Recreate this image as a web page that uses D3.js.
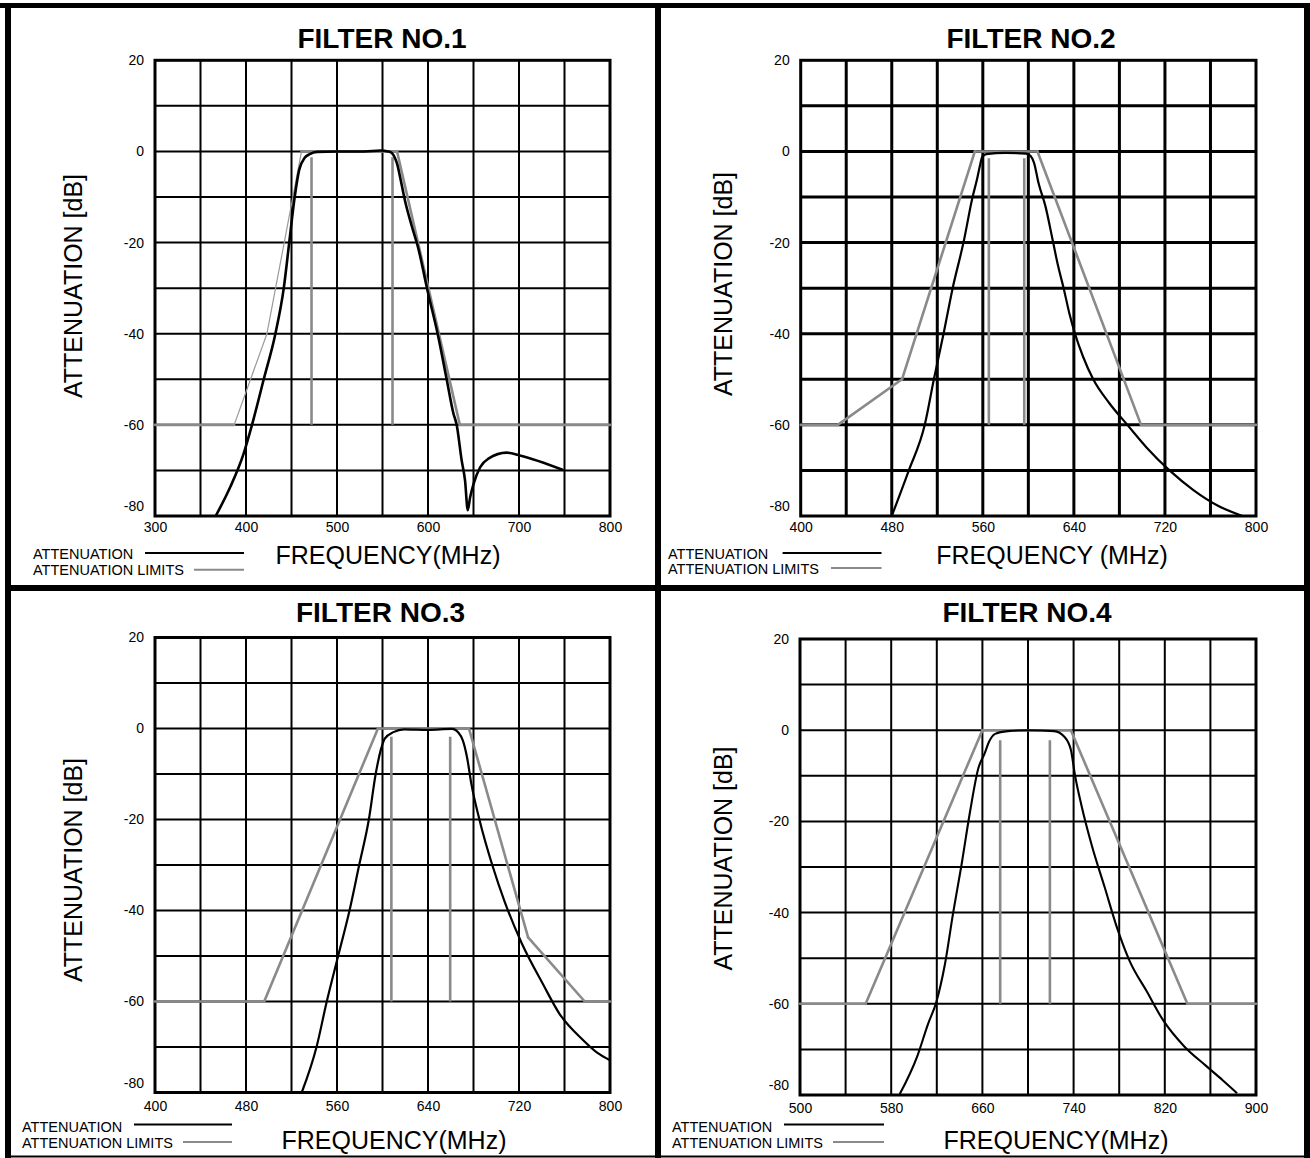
<!DOCTYPE html>
<html>
<head>
<meta charset="utf-8">
<script src="https://cdn.jsdelivr.net/npm/d3@7"></script>
<style>
  body { margin: 0; background: #fff; }
  svg { display: block; }
  text { font-family: "Liberation Sans", Arial, sans-serif; fill: #000; }
</style>
</head>
<body>
<div id="chart"></div>
<script>
// ---- values ----
var titles = ["FILTER NO.1", "FILTER NO.2", "FILTER NO.3", "FILTER NO.4"];
var xTitles = ["FREQUENCY(MHz)", "FREQUENCY (MHz)", "FREQUENCY(MHz)", "FREQUENCY(MHz)"];
var yTitle = "ATTENUATION [dB]";
var legendNames = ["ATTENUATION", "ATTENUATION LIMITS"];

var yTicks = [20, 0, -20, -40, -60, -80];
var xTicks1 = [300, 400, 500, 600, 700, 800];
var xTicks2 = [400, 480, 560, 640, 720, 800];
var xTicks3 = [400, 480, 560, 640, 720, 800];
var xTicks4 = [500, 580, 660, 740, 820, 900];

// measured attenuation [MHz, dB]
var resp1 = [[366.7,-80],[382.8,-73.6],[397.4,-66.3],[406.6,-60],[419.5,-50],[432.3,-40],[441.5,-30],
  [447.5,-20],[453.5,-10],[458.5,-4],[464.5,-1.4],[470,-0.6],[478,-0.1],[500,0],[530,0],[548,0.2],
  [556,0],[560,-0.3],[563.8,-1.5],[566.3,-2.9],[569.2,-5.5],[574.6,-10.7],[581.9,-16.2],[589,-21],
  [600,-31],[610.6,-40],[620.5,-50],[627.8,-57.4],[631.5,-60],[637,-67.8],[640.7,-72.2],[643.7,-78.7],
  [646.3,-75.9],[650,-73],[657.3,-69.3],[666.4,-67.4],[686.5,-66.1],[701,-66.7],[748.5,-69.9]];
var resp2 = [[480,-80],[495,-70],[509,-60],[517,-50],[525.5,-40],[533.5,-30],[543,-20],[551,-10],
  [555,-6],[557.3,-3.3],[559.5,-1.2],[563,-0.6],[580,-0.3],[598,-0.5],[602,-1],[605,-2.5],[609,-7],
  [615,-12],[621,-19],[626,-25],[631,-30],[636,-35.5],[641,-40],[648,-45],[657,-50],[671,-55.2],
  [687,-60],[704,-65],[724,-70],[745,-74.3],[767,-77.8],[788,-80]];
var resp3 = [[529,-80],[542,-70],[551,-60],[561,-50],[571,-40],[579.5,-30],[588,-20],[594,-10],
  [598.5,-4.7],[602,-2.2],[609.6,-0.8],[619,-0.2],[640,-0.3],[661,-0.1],[667,-1],[670.6,-2.6],
  [674.3,-6.3],[678,-12],[685.4,-20.2],[696.5,-30],[707.6,-38.2],[722.4,-47.2],[740.9,-56.1],
  [755.6,-62.7],[776,-68.4],[789,-71.3],[800,-72.9]];
var resp4 = [[587.5,-79.8],[603,-71.4],[612.2,-64.5],[619.6,-59.6],[627,-51.5],[634.3,-40.1],
  [641.7,-29.5],[649,-18.1],[656.5,-8.3],[662,-5.1],[665.7,-2.6],[671.2,-0.8],[682.3,-0.2],
  [700.7,0],[722.9,-0.2],[732.1,-1.5],[737.6,-4.3],[741.3,-10],[746.9,-16.5],[756.1,-25.4],
  [767.2,-34.4],[778.2,-43.4],[789.3,-50.7],[804,-57.2],[818.8,-63.7],[837.3,-69.4],[855.7,-73.5],
  [870.5,-76.7],[883.4,-79.6]];

// attenuation limits [MHz, dB]
var lim1 = [[300,-60],[387,-60],[423,-40],[461,0],[566,0],[635,-60],[800,-60]];
var lim2 = [[400,-60],[432.6,-60],[489,-50],[553,0],[608,0],[699,-60],[800,-60]];
var lim3 = [[400,-60],[496,-60],[596,0],[676,0],[728,-45.9],[777.8,-60],[800,-60]];
var lim4 = [[500,-60],[557.6,-60],[660,0],[737.6,0],[839.8,-60],[900,-60]];

// passband marker bars: frequencies, top value (they all drop to -60)
var marks1 = [472, 561];
var marks2 = [565.3, 596.4];
var marks3 = [607.8, 659.5];
var marks4 = [675.6, 719.2];
var markTop = [-1.3, -1.5, -1.8, -2.2];
var markBottom = -60;

// ---- layout ----
var panels = [
  { l: 155, r: 610, t: 60.3, b: 516, dom: [300, 800], step: 50, ticks: xTicks1, resp: resp1, lim: lim1, marks: marks1,
    gridW: 2, curveW: 2.6, tx: 382, ty: 48, yx: 82, yy: 286, xx: 388, xy: 564, tickPad: 6.5,
    lgX: 33, lgY: [553, 569.7], lgBlack: [145, 244], lgGray: [194, 244], lgBase: [558.6, 575.3] },
  { l: 800.7, r: 1256, t: 60.3, b: 516, dom: [400, 800], step: 40, ticks: xTicks2, resp: resp2, lim: lim2, marks: marks2,
    gridW: 3, curveW: 2.2, tx: 1031, ty: 48, yx: 732, yy: 284, xx: 1052, xy: 564, tickPad: 6.5,
    lgX: 668, lgY: [553, 568], lgBlack: [782.6, 881.5], lgGray: [831, 881.5], lgBase: [558.6, 574] },
  { l: 155, r: 610, t: 637.5, b: 1092.5, dom: [400, 800], step: 40, ticks: xTicks3, resp: resp3, lim: lim3, marks: marks3,
    gridW: 2, curveW: 2.2, tx: 380.5, ty: 621.5, yx: 82, yy: 870, xx: 394, xy: 1149, tickPad: 8.5,
    lgX: 22, lgY: [1124.4, 1142], lgBlack: [134, 232], lgGray: [183, 232], lgBase: [1131.5, 1147.5] },
  { l: 800, r: 1256, t: 639, b: 1095, dom: [500, 900], step: 40, ticks: xTicks4, resp: resp4, lim: lim4, marks: marks4,
    gridW: 2, curveW: 2.1, tx: 1027, ty: 621.5, yx: 732, yy: 858.5, xx: 1056, xy: 1149, tickPad: 8,
    lgX: 672, lgY: [1124.4, 1142], lgBlack: [784, 884], lgGray: [833, 884], lgBase: [1131.5, 1147.5] }
];

var gray = "#8a8a8a";
var plain = function (d) { return String(d); };   // keep the ascii hyphen of the original

var svg = d3.select("#chart").append("svg")
    .attr("width", 1310)
    .attr("height", 1158);

svg.append("rect").attr("width", 1310).attr("height", 1158).attr("fill", "#fff");

panels.forEach(function (p, i) {
    var g = svg.append("g");
    var x = d3.scaleLinear().domain(p.dom).range([p.l, p.r]);
    var y = d3.scaleLinear().domain([-80, 20]).range([p.b, p.t]);

    // grid
    g.selectAll("line.vg")
        .data(d3.range(p.dom[0] + p.step, p.dom[1], p.step))
        .enter().append("line")
        .attr("x1", function (d) { return x(d); })
        .attr("x2", function (d) { return x(d); })
        .attr("y1", p.t).attr("y2", p.b)
        .attr("stroke", "#000").attr("stroke-width", p.gridW);
    g.selectAll("line.hg")
        .data(d3.range(-70, 20, 10))
        .enter().append("line")
        .attr("y1", function (d) { return y(d); })
        .attr("y2", function (d) { return y(d); })
        .attr("x1", p.l).attr("x2", p.r)
        .attr("stroke", "#000").attr("stroke-width", p.gridW);
    g.append("rect")
        .attr("x", p.l).attr("y", p.t)
        .attr("width", p.r - p.l).attr("height", p.b - p.t)
        .attr("fill", "none").attr("stroke", "#000").attr("stroke-width", 3);

    // axes labels
    var ya = g.append("g").attr("transform", "translate(" + p.l + ",0)")
        .call(d3.axisLeft(y).tickValues(yTicks).tickFormat(plain).tickSize(0).tickPadding(11));
    var xa = g.append("g").attr("transform", "translate(0," + p.b + ")")
        .call(d3.axisBottom(x).tickValues(p.ticks).tickFormat(plain).tickSize(0).tickPadding(p.tickPad));
    [ya, xa].forEach(function (a) {
        a.select(".domain").remove();
        a.selectAll("text")
            .attr("font-family", "Liberation Sans, Arial, sans-serif")
            .attr("font-size", 14)
            .attr("fill", "#000");
    });
    ya.selectAll("text").filter(function (d) { return d === -80; }).attr("dy", "-0.38em");

    // limits
    var segs = d3.pairs(p.lim);
    g.selectAll("line.lim")
        .data(segs)
        .enter().append("line")
        .attr("x1", function (d) { return x(d[0][0]); })
        .attr("y1", function (d) { return y(d[0][1]); })
        .attr("x2", function (d) { return x(d[1][0]); })
        .attr("y2", function (d) { return y(d[1][1]); })
        .attr("stroke", function (d, k) { return (i === 0 && (k === 1 || k === 2)) ? "#9a9a9a" : gray; })
        .attr("stroke-width", function (d, k) { return (i === 0 && (k === 1 || k === 2)) ? 1.2 : 2.6; })
        .attr("stroke-linecap", "round");

    g.selectAll("line.mark")
        .data(p.marks)
        .enter().append("line")
        .attr("x1", function (d) { return x(d); })
        .attr("x2", function (d) { return x(d); })
        .attr("y1", y(markTop[i]))
        .attr("y2", y(markBottom))
        .attr("stroke", gray).attr("stroke-width", 2.6);

    // measured response
    var line = d3.line()
        .x(function (d) { return x(d[0]); })
        .y(function (d) { return y(d[1]); })
        .curve(d3.curveMonotoneX);
    g.append("path")
        .datum(p.resp)
        .attr("d", line)
        .attr("fill", "none")
        .attr("stroke", "#000")
        .attr("stroke-width", p.curveW)
        .attr("stroke-linejoin", "round");

    // titles
    g.append("text").text(titles[i])
        .attr("x", p.tx).attr("y", p.ty)
        .attr("text-anchor", "middle")
        .attr("font-size", 28).attr("font-weight", "bold");
    g.append("text").text(yTitle)
        .attr("transform", "translate(" + p.yx + "," + p.yy + ") rotate(-90)")
        .attr("text-anchor", "middle")
        .attr("font-size", 25);
    g.append("text").text(xTitles[i])
        .attr("x", p.xx).attr("y", p.xy)
        .attr("text-anchor", "middle")
        .attr("font-size", 25);

    // legend
    legendNames.forEach(function (name, k) {
        g.append("text").text(name)
            .attr("x", p.lgX).attr("y", p.lgBase[k])
            .attr("font-size", 14.5);
        var seg = k === 0 ? p.lgBlack : p.lgGray;
        g.append("line")
            .attr("x1", seg[0]).attr("x2", seg[1])
            .attr("y1", p.lgY[k]).attr("y2", p.lgY[k])
            .attr("stroke", k === 0 ? "#000" : gray)
            .attr("stroke-width", 2);
    });
});

// frame and dividers
var frame = [
    { x1: 0, y1: 5.5, x2: 1310, y2: 5.5, w: 5 },
    { x1: 8, y1: 3, x2: 8, y2: 1158, w: 6 },
    { x1: 1307, y1: 3, x2: 1307, y2: 1158, w: 6 },
    { x1: 5, y1: 1156.5, x2: 1310, y2: 1156.5, w: 2 },
    { x1: 658, y1: 3, x2: 658, y2: 1158, w: 6 },
    { x1: 5, y1: 588, x2: 1310, y2: 588, w: 6 }
];
svg.selectAll("line.frame")
    .data(frame)
    .enter().append("line")
    .attr("x1", function (d) { return d.x1; })
    .attr("y1", function (d) { return d.y1; })
    .attr("x2", function (d) { return d.x2; })
    .attr("y2", function (d) { return d.y2; })
    .attr("stroke", "#000")
    .attr("stroke-width", function (d) { return d.w; });
</script>
</body>
</html>
